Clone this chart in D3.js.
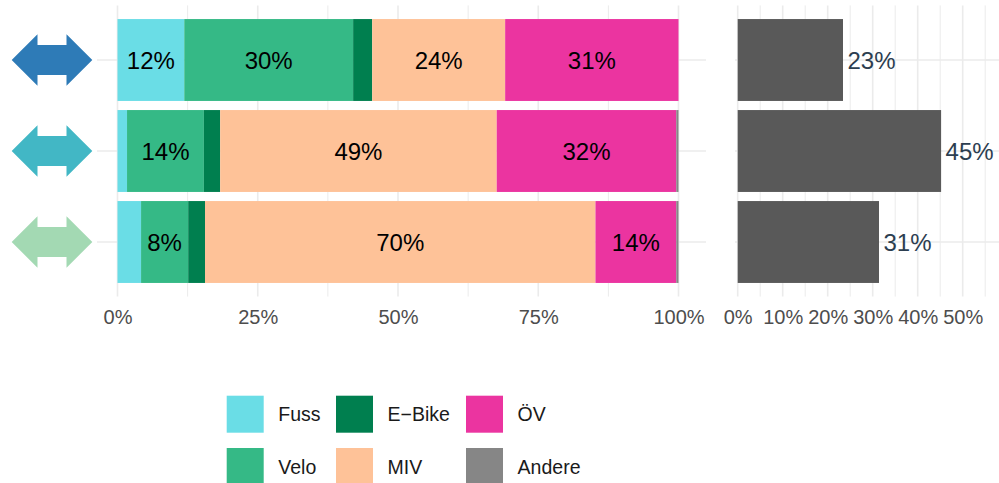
<!DOCTYPE html>
<head>
	<meta charset="utf-8">
	<script src="https://d3js.org/d3.v7.min.js"></script>
	<style>
		body {
			margin: 0;
			background: #fff;
		}
		svg text {
			font-family: "Liberation Sans", Arial, Helvetica, sans-serif;
		}
		.tick text {
			font-size: 20px;
			fill: #4d4d4d;
		}
	</style>
</head>
<body>

<svg width="999" height="483" id="chart"></svg>

<script>

	// rows (top to bottom), shown as arrows
	var rows = ["a", "b", "c"];
	var arrowColors = ["#2e7bb7", "#42b7c5", "#a3d9b3"];

	// modal split per row, in %
	var modes = ["Fuss", "Velo", "E\u2212Bike", "MIV", "\u00d6V", "Andere"];
	var modeColors = ["#6adde6", "#35b986", "#007f4f", "#fec298", "#eb34a0", "#868686"];
	var fuss   = [11.9, 1.7, 4.2];
	var velo   = [30.1, 13.7, 8.4];
	var ebike  = [3.4, 2.9, 3.0];
	var miv    = [23.7, 49.3, 69.6];
	var oev    = [30.9, 32.0, 14.4];
	var andere = [0.0, 0.4, 0.4];

	// right panel share per row, in %
	var share = [23.4, 45.2, 31.4];

	var leftTicks = [0, 25, 50, 75, 100];
	var rightTicks = [0, 10, 20, 30, 40, 50];

	var series = [fuss, velo, ebike, miv, oev, andere];

	var table = rows.map(function(r, i) {
		var o = {row: r};
		modes.forEach(function(m, j) { o[m] = series[j][i]; });
		return o;
	});

	var svg = d3.select("#chart");

	var y = d3.scaleBand()
		.domain(rows)
		.range([5.4, 296.6])
		.paddingInner(0.1)
		.paddingOuter(0.15);

	var x = d3.scaleLinear().domain([0, 100]).range([117.5, 678.5]);
	var x2 = d3.scaleLinear().domain([0, 10]).range([737.7, 782.7]);

	var color = d3.scaleOrdinal().domain(modes).range(modeColors);

	// grid, left panel
	var grid = svg.append("g").attr("stroke", "#ebebeb");

	grid.selectAll(".hl")
		.data(rows)
		.enter().append("line")
		.attr("x1", 97).attr("x2", 706)
		.attr("y1", d => y(d) + y.bandwidth() / 2)
		.attr("y2", d => y(d) + y.bandwidth() / 2)
		.attr("stroke-width", 1.6);

	grid.selectAll(".vl")
		.data(d3.range(0, 100.1, 12.5))
		.enter().append("line")
		.attr("x1", d => x(d)).attr("x2", d => x(d))
		.attr("y1", 5.4).attr("y2", 296.6)
		.attr("stroke-width", d => d % 25 == 0 ? 1.6 : 1);

	// grid, right panel
	grid.selectAll(".hr")
		.data(rows)
		.enter().append("line")
		.attr("x1", 735).attr("x2", 999)
		.attr("y1", d => y(d) + y.bandwidth() / 2)
		.attr("y2", d => y(d) + y.bandwidth() / 2)
		.attr("stroke-width", 1.6);

	grid.selectAll(".vr")
		.data(d3.range(0, 56, 5))
		.enter().append("line")
		.attr("x1", d => x2(d)).attr("x2", d => x2(d))
		.attr("y1", 5.4).attr("y2", 296.6)
		.attr("stroke-width", d => d % 10 == 0 ? 1.6 : 1);

	// stacked bars
	var stack = d3.stack().keys(modes)(table);

	var layers = svg.selectAll("g.layer")
		.data(stack)
		.enter().append("g")
		.attr("class", "layer")
		.attr("fill", d => color(d.key));

	layers.selectAll("rect")
		.data(d => d)
		.enter().append("rect")
		.attr("x", d => x(d[0]))
		.attr("width", d => x(d[1]) - x(d[0]))
		.attr("y", d => y(d.data.row))
		.attr("height", y.bandwidth());

	layers.selectAll("text")
		.data(d => d.filter(e => e[1] - e[0] >= 5))
		.enter().append("text")
		.attr("x", d => (x(d[0]) + x(d[1])) / 2)
		.attr("y", d => y(d.data.row) + y.bandwidth() / 2)
		.attr("dy", "0.36em")
		.attr("text-anchor", "middle")
		.attr("font-size", "24px")
		.attr("fill", "#000")
		.text(d => Math.round(d[1] - d[0]) + "%");

	// right bars
	svg.selectAll(".share")
		.data(share)
		.enter().append("rect")
		.attr("x", x2(0))
		.attr("width", d => x2(d) - x2(0))
		.attr("y", (d, i) => y(rows[i]))
		.attr("height", y.bandwidth())
		.attr("fill", "#595959");

	svg.selectAll(".shareLabel")
		.data(share)
		.enter().append("text")
		.attr("x", d => x2(d) + 4.5)
		.attr("y", (d, i) => y(rows[i]) + y.bandwidth() / 2)
		.attr("dy", "0.36em")
		.attr("font-size", "24px")
		.attr("fill", "#2c3e50")
		.text(d => Math.round(d) + "%");

	// arrows
	var arrow = [[-40.3, 0], [-14.5, -25.7], [-14.5, -15], [14.5, -15], [14.5, -25.7],
		[40.3, 0], [14.5, 25.7], [14.5, 15], [-14.5, 15], [-14.5, 25.7]];

	svg.selectAll(".arrow")
		.data(rows)
		.enter().append("polygon")
		.attr("points", arrow.map(p => p.join(",")).join(" "))
		.attr("transform", d => "translate(52," + (y(d) + y.bandwidth() / 2) + ")")
		.attr("fill", (d, i) => arrowColors[i]);

	// axes
	svg.append("g")
		.attr("transform", "translate(0,296.6)")
		.call(d3.axisBottom(x).tickValues(leftTicks).tickSize(0).tickPadding(13).tickFormat(d => d + "%"))
		.call(g => g.select(".domain").remove());

	svg.append("g")
		.attr("transform", "translate(0,296.6)")
		.call(d3.axisBottom(x2).tickValues(rightTicks).tickSize(0).tickPadding(13).tickFormat(d => d + "%"))
		.call(g => g.select(".domain").remove());

	// legend
	var legend = svg.selectAll(".legend")
		.data(modes)
		.enter().append("g")
		.attr("class", "legend")
		.attr("transform", (d, i) => "translate(" + [226.7, 336, 466][Math.floor(i / 2)] + "," + (i % 2 ? 448 : 395.7) + ")");

	legend.append("rect")
		.attr("width", 37)
		.attr("height", 37)
		.attr("fill", color);

	legend.append("text")
		.attr("x", [51.6])
		.attr("y", 18.5)
		.attr("dy", "0.36em")
		.attr("font-size", "19.5px")
		.attr("fill", "#1a1a1a")
		.text(d => d);

</script>
</body>
